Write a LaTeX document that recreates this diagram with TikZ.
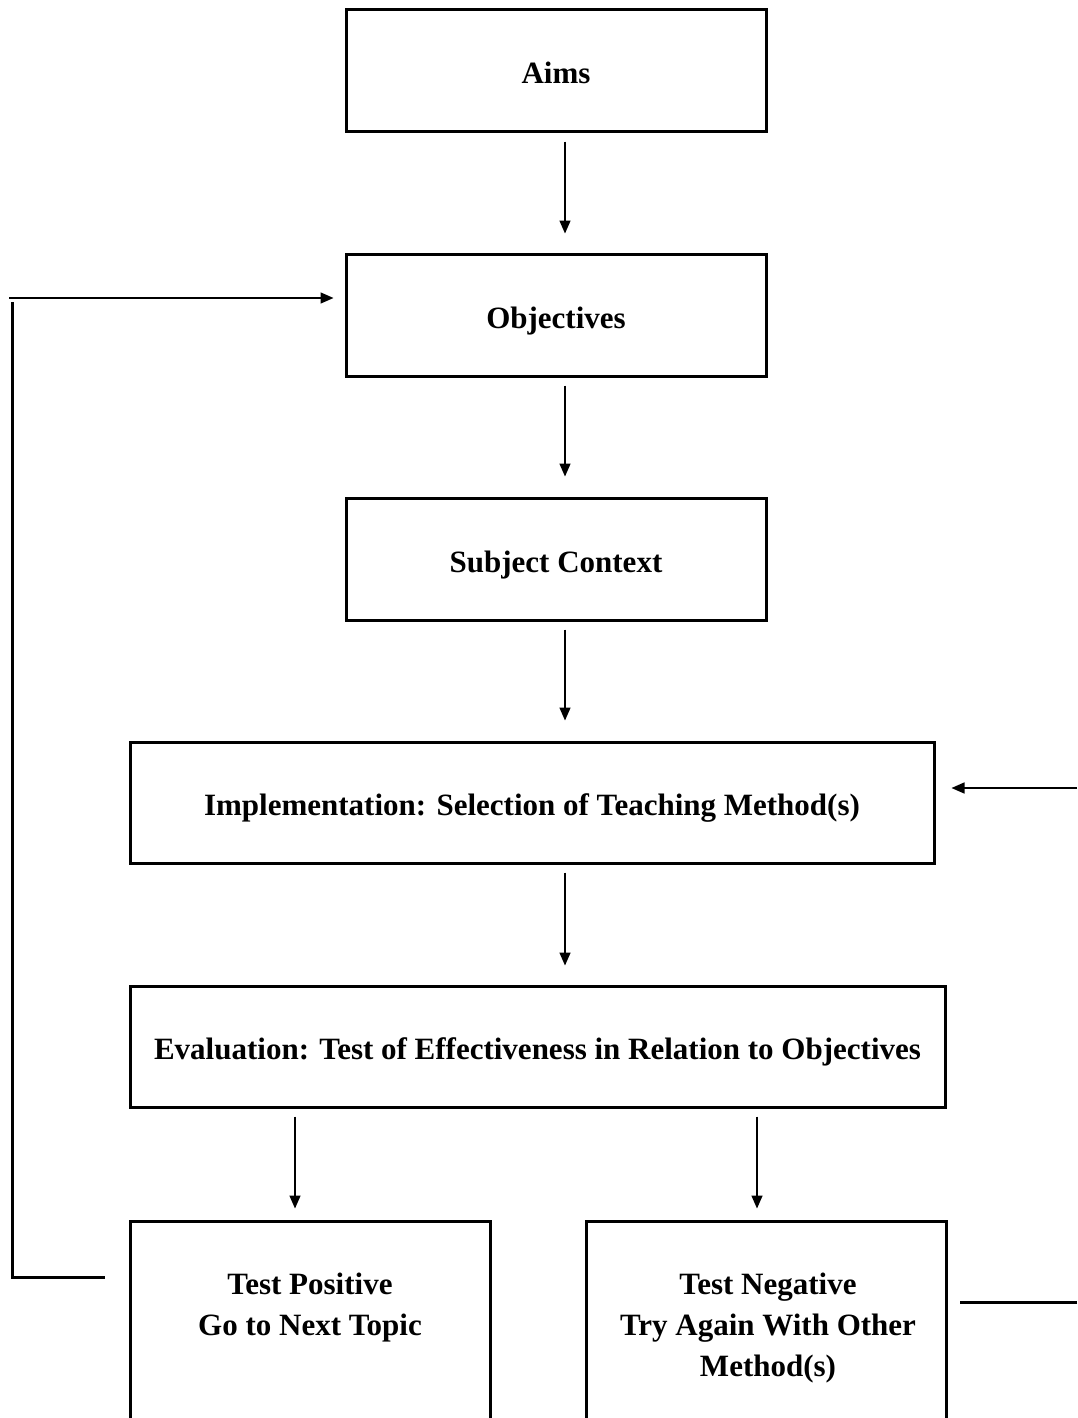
\documentclass[tikz,border=0pt]{standalone}
\usepackage{fontspec}
\setmainfont{Liberation Serif}
\usetikzlibrary{calc,arrows.meta}
\begin{document}
\begin{tikzpicture}[x=0.5pt,y=-0.5pt,
 box/.style={draw,line width=1.5pt,inner sep=0pt,text height=15pt,text depth=2pt,font=\fontsize{15.5}{20.5}\selectfont\bfseries,align=center},
 frame/.style={draw,line width=1.5pt,inner sep=0pt},
 txt/.style={inner sep=0pt,font=\fontsize{15.5}{20.5}\selectfont\bfseries,align=center},
 arr/.style={line width=0.75pt,-{Triangle[length=6.5pt,width=5.5pt]}},
 thickln/.style={line width=1.5pt}]
\useasboundingbox (0,0) rectangle (1077,1418);
\clip (0,0) rectangle (1077,1418);
\fill[white] (0,0) rectangle (1077,1418);
\node[box,minimum width=210pt,minimum height=61pt] (aims) at (556,71) {Aims};
\node[box,minimum width=210pt,minimum height=61pt] (obj) at (556,315) {Objectives};
\node[box,minimum width=210pt,minimum height=61pt] (subj) at (556,559) {Subject Context};
\node[box,minimum width=402pt,minimum height=60.5pt] (impl) at (532,802.5) {Implementation: Selection of Teaching Method(s)};
\node[box,minimum width=407.5pt,minimum height=60.5pt] (eval) at (537.5,1046.5) {Evaluation: Test of Effectiveness in Relation to Objectives};
\node[frame,minimum width=180pt,minimum height=109.5pt] (pos) at (310,1330.5) {};
\node[frame,minimum width=180pt,minimum height=109.5pt] (neg) at (766,1330.5) {};
\node[txt] (posT) at ($(pos.north)+(0,88)$) {Test Positive\\Go to Next Topic};
\node[txt] (negT) at ($(neg.north)+(2,109)$) {Test Negative\\Try Again With Other\\Method(s)};
\draw[arr] ($(aims.south)+(9,8)$) -- ($(obj.north)+(9,-19)$);
\draw[arr] ($(obj.south)+(9,8)$) -- ($(subj.north)+(9,-20)$);
\draw[arr] ($(subj.south)+(9,8)$) -- ($(impl.north -| subj.south)+(9,-20)$);
\draw[arr] ($(impl.south -| subj.south)+(9,8)$) -- ($(eval.north -| subj.south)+(9,-19)$);
\draw[arr] ($(eval.south -| pos.north)+(-15,8)$) -- ($(pos.north)+(-15,-11)$);
\draw[arr] ($(eval.south -| neg.north)+(-9,8)$) -- ($(neg.north)+(-9,-11)$);
\coordinate (lb) at (12,1277);
\coordinate (lt) at (12,298);
\draw[thickln] ($(pos.west |- lb)+(-24,0)$) -- (lb) -- ($(lt)+(0,4)$);
\draw[arr] ($(lt)+(-3,0)$) -- ($(obj.west |- lt)+(-11,0)$);
\coordinate (rt) at (1077,788);
\draw[arr] (rt) -- ($(impl.east |- rt)+(16,0)$);
\coordinate (rb) at (1077,1302);
\draw[thickln] (rb) -- ($(neg.east |- rb)+(12,0)$);
\end{tikzpicture}
\end{document}
